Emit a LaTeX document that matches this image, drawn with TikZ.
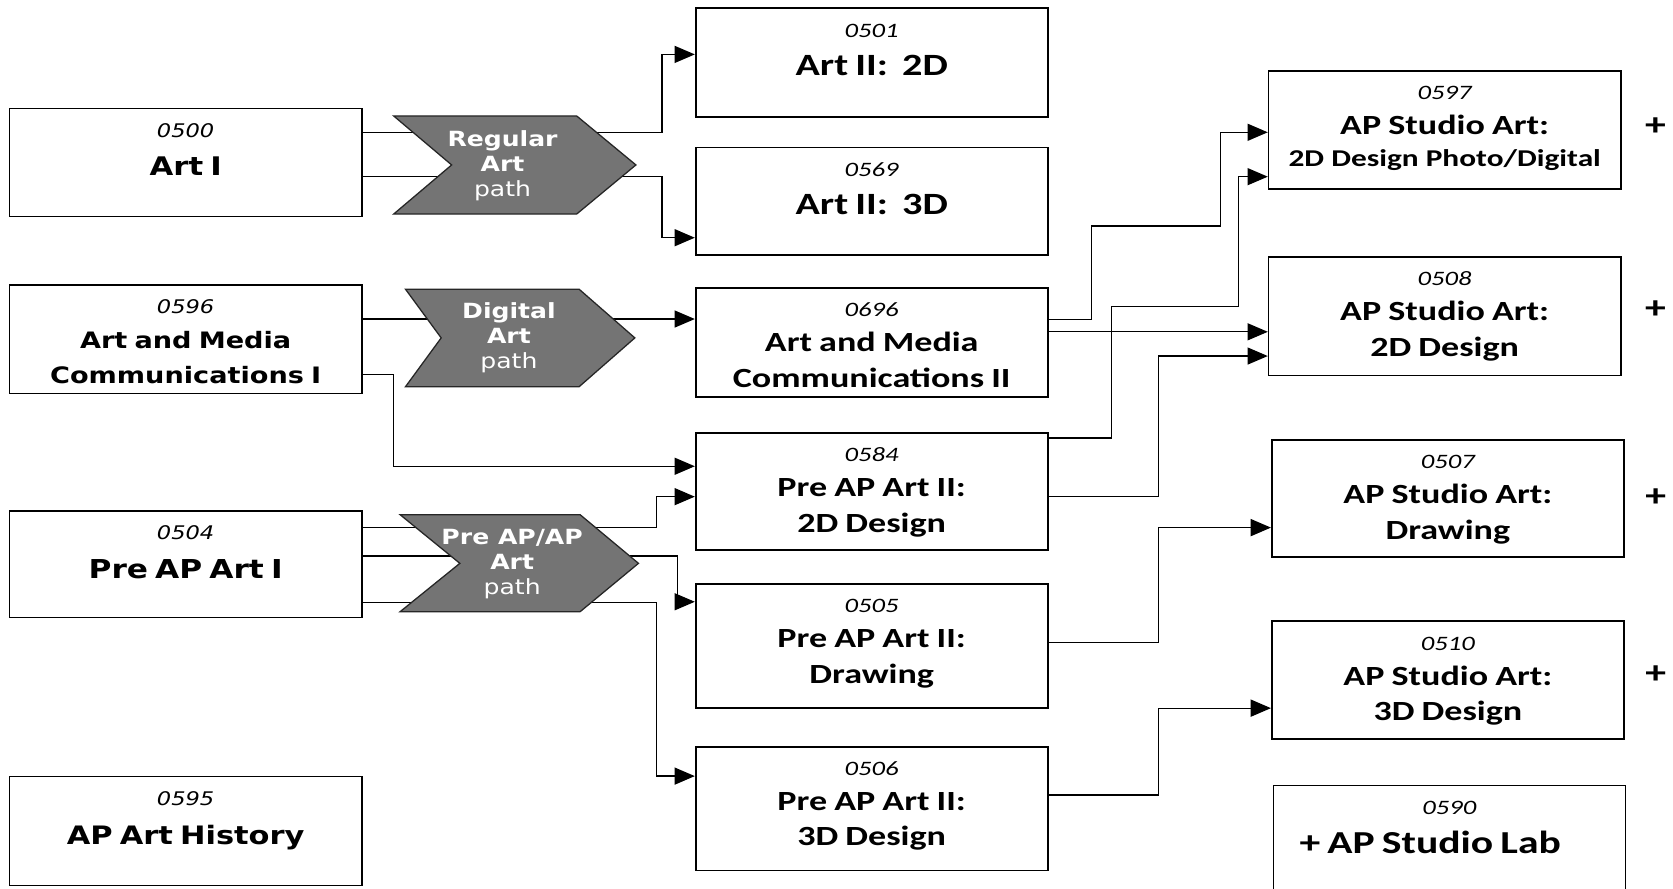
\documentclass[tikz,border=0pt]{standalone}
\usepackage{fontspec}
\setmainfont{DejaVu Sans}
\newfontfamily\verd[FakeStretch=1.2]{DejaVu Sans}
\newfontfamily\calib[FakeStretch=1.3]{Carlito}
\usetikzlibrary{arrows.meta}
\definecolor{chevgray}{RGB}{116,116,116}

% course numbers and titles
\newcommand{\vnum}{\verd\itshape\fontsize{8.8}{11}\selectfont}
\newcommand{\cnum}{\calib\itshape\fontsize{9.6}{11}\selectfont}
\newcommand{\vt}[2]{\verd\upshape\bfseries\fontsize{#1}{#2}\selectfont}
\newcommand{\ct}[2]{\calib\upshape\bfseries\fontsize{#1}{#2}\selectfont}

\begin{document}
\begin{tikzpicture}[
  x=0.5pt, y=-0.5pt,
  course/.style={rectangle, draw, line width=0.8pt, anchor=north, align=center,
                 inner sep=0pt, text width=165pt, text height=13.5pt,
                 text depth=#1*0.5pt-13.5pt},
  chevron/.style={draw=black!85, line width=0.6pt, fill=chevgray},
  pathlabel/.style={text=white, align=center, inner sep=0pt,
                    font=\verd\bfseries\fontsize{9.8}{11.7}\selectfont},
  plusmark/.style={fill=white, inner sep=0pt, minimum width=29pt, minimum height=24pt,
                   font=\calib\bfseries\fontsize{15}{15}\selectfont},
  arrow/.style={-{Triangle[length=9.5pt, width=8pt]}, line width=0.6pt}
]
  \useasboundingbox (0,0) rectangle (1568,833);

  % first year
  \node[course=101] (l0500) at (174,101)   {\vnum 0500\\ \vt{12}{18}Art I\par};
  \node[course=102] (l0596) at (174,266)   {\vnum 0596\\ \vt{10.6}{16.5}Art and Media\\Communications I\par};
  \node[course=100] (l0504) at (174,478)   {\vnum 0504\\ \vt{12.2}{18}Pre AP Art I\par};
  \node[course=102] (l0595) at (174,727)   {\vnum 0595\\ \vt{11.9}{18.5}AP Art History\par};

  % second year
  \node[course=102] (m0501) at (817,7)     {\cnum 0501\\ \ct{14.5}{18}Art II:\ \ 2D\par};
  \node[course=101] (m0569) at (817,137.5) {\cnum 0569\\ \ct{14.5}{18}Art II:\ \ 3D\par};
  \node[course=102] (m0696) at (817,269)   {\cnum 0696\\ \ct{13}{16.5}Art and Media\\Communications II\par};
  \node[course=110] (m0584) at (817,405)   {\cnum 0584\\ \ct{13}{16.5}Pre AP Art II:\\2D Design\par};
  \node[course=116] (m0505) at (817,546.5) {\cnum 0505\\ \ct{13}{16.5}Pre AP Art II:\\Drawing\par};
  \node[course=116] (m0506) at (817,699)   {\cnum 0506\\ \ct{13}{16.5}Pre AP Art II:\\3D Design\par};

  % AP courses
  \node[course=111] (r0597) at (1354,65.5)  {\cnum 0597\\ \ct{13}{16.5}AP Studio Art:\\ \ct{11.3}{15}2D Design Photo/Digital\par};
  \node[course=111] (r0508) at (1354,240)   {\cnum 0508\\ \ct{13}{16.5}AP Studio Art:\\2D Design\par};
  \node[course=110] (r0507) at (1357,411.5) {\cnum 0507\\ \ct{13}{16.5}AP Studio Art:\\Drawing\par};
  \node[course=110] (r0510) at (1357,581.5) {\cnum 0510\\ \ct{13}{16.5}AP Studio Art:\\3D Design\par};
  \node[course=120] (r0590) at (1358.5,735.5) {\cnum 0590\\ \ct{15}{18.5}+ AP Studio Lab\kern18pt\par};

  \node[plusmark] (p0597) at (1551.5,118.7) {+};
  \node[plusmark] (p0508) at (1551.5,290.6) {+};
  \node[plusmark] (p0507) at (1551.8,466.8) {+};
  \node[plusmark] (p0510) at (1551.8,632)   {+};

  % connectors
  \draw[arrow] (l0500.east |- 0,124)   -- (620.5,124)   |- (m0501.west |- 0,51);
  \draw[arrow] (l0500.east |- 0,165.6) -- (620.5,165.6) |- (m0569.west |- 0,222.8);
  \draw[arrow] (l0596.east |- 0,299)   -- (m0696.west |- 0,299);
  \draw[arrow] (l0596.east |- 0,351)   -- (369,351)     |- (m0584.west |- 0,437);
  \draw[arrow] (l0504.east |- 0,494.5) -- (615,494.5)   |- (m0584.west |- 0,465.5);
  \draw[arrow] (l0504.east |- 0,521)   -- (634.7,521)   |- (m0505.west |- 0,564);
  \draw[arrow] (l0504.east |- 0,565)   -- (615,565)     |- (m0506.west |- 0,727.4);

  \draw[arrow] (m0696.east |- 0,299.4) -- (1023,299.4) |- (1143.6,211.8) |- (r0597.west |- 0,124);
  \draw[arrow] (m0696.east |- 0,311)   -- (r0508.west |- 0,311);
  \draw[arrow] (m0584.east |- 0,410.6) -- (1042,410.6) |- (1161,287.4) |- (r0597.west |- 0,165.6);
  \draw[arrow] (m0584.east |- 0,465.5) -- (1086,465.5) |- (r0508.west |- 0,333.7);
  \draw[arrow] (m0505.east |- 0,602)   -- (1086,602)   |- (r0507.west |- 0,494.5);
  \draw[arrow] (m0506.east |- 0,745)   -- (1086,745)   |- (r0510.west |- 0,663.7);

  % paths
  \filldraw[chevron] (369,108.7) -- (540.5,108.7) -- (596,154.6) -- (540.5,200.6)
                     -- (369,200.6) -- (423.3,154.6) -- cycle;
  \node[pathlabel] (regular) at (471,155) {Regular\\Art\\\mdseries path};

  \filldraw[chevron] (380,271) -- (542.7,271) -- (595,316.7) -- (542.7,362.5)
                     -- (380,362.5) -- (413.5,316.7) -- cycle;
  \node[pathlabel] (digital) at (477,316.5) {Digital\\Art\\\mdseries path};

  \filldraw[chevron] (375,482.4) -- (543.7,482.4) -- (598.4,528) -- (543.7,573.3)
                     -- (375,573.3) -- (431,528) -- cycle;
  \node[pathlabel] (preap) at (480,528.7) {Pre AP/AP\\Art\\\mdseries path};
\end{tikzpicture}
\end{document}
